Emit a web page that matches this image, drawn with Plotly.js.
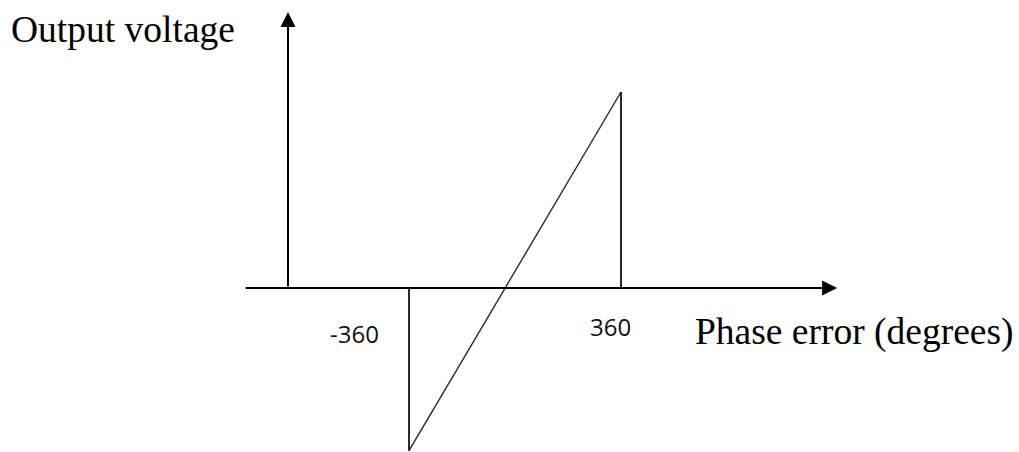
<!DOCTYPE html>
<html>
<head>
<meta charset="utf-8">
<script src="https://cdn.plot.ly/plotly-3.0.1.min.js"></script>
<style>
  html, body { margin: 0; padding: 0; background: #ffffff; }
  #chart { width: 1019px; height: 452px; }
</style>
</head>
<body>
<div id="chart"></div>
<script>
// Phase detector transfer characteristic: output voltage vs. phase error
const phaseDeg = [-360, -360, 360, 360];     // degrees
const outputV  = [0, -0.83, 1.0, 0];         // relative output voltage
const tickVals = [-360, 360];
const tickText = ['-360', '360'];
const xLabel = 'Phase error (degrees)';
const yLabel = 'Output voltage';

const W = 1019, H = 452;
const serif = 'Liberation Serif, Times New Roman, serif';
const sans = 'Open Sans, Noto Sans, sans-serif';

// pixel -> paper helpers for free-standing labels
const px = v => v / W;
const py = v => 1 - v / H;

// three segments of the characteristic: drop, ramp, drop back to zero
const traces = [];
for (let i = 0; i < phaseDeg.length - 1; i++) {
  const ramp = phaseDeg[i] !== phaseDeg[i + 1];
  traces.push({
    x: [phaseDeg[i], phaseDeg[i + 1]],
    y: [outputV[i], outputV[i + 1]],
    mode: 'lines',
    type: 'scatter',
    hoverinfo: 'skip',
    showlegend: false,
    line: { color: ramp ? '#2a2a2a' : '#111111', width: ramp ? 1.4 : 1.8 }
  });
}

const annotations = [
  // horizontal (phase) axis arrow
  { x: 1094, y: 0, ax: -920, ay: 0, xref: 'x', yref: 'y', axref: 'x', ayref: 'y',
    text: '', showarrow: true, arrowhead: 2, arrowsize: 1.5, arrowwidth: 2, arrowcolor: '#000' },
  // vertical (voltage) axis arrow
  { x: -771, y: 1.408, ax: -771, ay: 0, xref: 'x', yref: 'y', axref: 'x', ayref: 'y',
    text: '', showarrow: true, arrowhead: 2, arrowsize: 1.5, arrowwidth: 2, arrowcolor: '#000' },
  // axis titles
  { x: px(9), y: py(29), xref: 'paper', yref: 'paper', xanchor: 'left', yanchor: 'middle',
    text: yLabel, showarrow: false, font: { family: serif, size: 37.5, color: '#000' } },
  { x: px(693), y: py(332), xref: 'paper', yref: 'paper', xanchor: 'left', yanchor: 'middle',
    text: xLabel, showarrow: false, font: { family: serif, size: 37.5, color: '#000' } },
  // tick labels
  { x: tickVals[0], y: 0, xref: 'x', yref: 'y', xanchor: 'center', yanchor: 'middle',
    xshift: -55, yshift: -45, text: tickText[0], showarrow: false,
    font: { family: sans, size: 24, color: '#111' } },
  { x: tickVals[1], y: 0, xref: 'x', yref: 'y', xanchor: 'center', yanchor: 'middle',
    xshift: -11, yshift: -38, text: tickText[1], showarrow: false,
    font: { family: sans, size: 24, color: '#111' } }
];

const layout = {
  width: W, height: H,
  margin: { l: 0, r: 0, t: 0, b: 0 },
  paper_bgcolor: '#ffffff',
  plot_bgcolor: '#ffffff',
  showlegend: false,
  xaxis: { range: [-1749.1, 1711.7], visible: false, fixedrange: true },
  yaxis: { range: [-0.8367, 1.4694], visible: false, fixedrange: true },
  annotations: annotations
};

Plotly.newPlot('chart', traces, layout, { staticPlot: true, displayModeBar: false });
</script>
</body>
</html>
